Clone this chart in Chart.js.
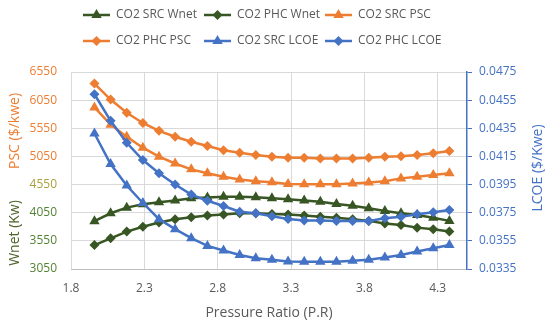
<!DOCTYPE html>
<html>
<head>
<meta charset="utf-8">
<script src="https://cdn.jsdelivr.net/npm/chart.js@4.4.0/dist/chart.umd.min.js"></script>
<style>
    html, body { margin: 0; padding: 0; background: #fff; }
    #grafico { display: block; }
</style>
</head>
<body>
<canvas id="grafico" width="550" height="326"></canvas>
<script>
// Dados
const pressureRatio = [1.96, 2.07, 2.18, 2.29, 2.40, 2.51, 2.62, 2.73, 2.84, 2.95, 3.06, 3.17, 3.28, 3.39, 3.50, 3.61, 3.72, 3.83, 3.94, 4.05, 4.16, 4.27, 4.38];
const srcWnet = [3900, 4040, 4140, 4200, 4235, 4265, 4305, 4320, 4335, 4335, 4325, 4305, 4290, 4265, 4245, 4205, 4175, 4130, 4080, 4040, 4010, 3960, 3905];
const phcWnet = [3475, 3595, 3715, 3800, 3875, 3935, 3970, 4000, 4020, 4040, 4040, 4025, 4020, 4000, 3980, 3960, 3935, 3905, 3860, 3830, 3785, 3755, 3715];
const srcPsc = [5920, 5615, 5400, 5205, 5045, 4925, 4820, 4750, 4690, 4640, 4610, 4590, 4560, 4555, 4555, 4555, 4570, 4585, 4610, 4660, 4690, 4720, 4750];
const phcPsc = [6345, 6060, 5825, 5645, 5505, 5400, 5310, 5235, 5160, 5115, 5075, 5045, 5025, 5025, 5015, 5015, 5015, 5025, 5045, 5055, 5075, 5105, 5145];
const srcLcoe = [0.04313, 0.04096, 0.03943, 0.03819, 0.03704, 0.03633, 0.03569, 0.03514, 0.03481, 0.03450, 0.03427, 0.03415, 0.03403, 0.03401, 0.03401, 0.03401, 0.03408, 0.03415, 0.03431, 0.03450, 0.03474, 0.03498, 0.03521];
const phcLcoe = [0.04592, 0.04403, 0.04247, 0.04124, 0.04030, 0.03950, 0.03879, 0.03835, 0.03798, 0.03757, 0.03746, 0.03725, 0.03706, 0.03694, 0.03694, 0.03691, 0.03691, 0.03691, 0.03711, 0.03722, 0.03739, 0.03753, 0.03770];

const seriesNames = ['CO2 SRC Wnet', 'CO2 PHC Wnet', 'CO2 SRC PSC', 'CO2 PHC PSC', 'CO2 SRC LCOE', 'CO2 PHC LCOE'];
const xTicks = [1.8, 2.3, 2.8, 3.3, 3.8, 4.3];
const leftTicks = [3050, 3550, 4050, 4550, 5050, 5550, 6050, 6550];
const rightTicks = [0.0335, 0.0355, 0.0375, 0.0395, 0.0415, 0.0435, 0.0455, 0.0475];

const CORES = {
    green: '#375623',
    orange: '#ED7D31',
    blue: '#4472C4',
    text: '#595959',
    grid: '#d9d9d9'
};

const FONT = "'Open Sans', sans-serif";

// forma dos marcadores
function desenhaMarcador(ctx, estilo, x, y, r, cor) {
    ctx.save();
    ctx.fillStyle = cor;
    ctx.beginPath();
    if (estilo === 'triangle') {
        ctx.moveTo(x, y - r);
        ctx.lineTo(x + r * 0.866, y + r * 0.5);
        ctx.lineTo(x - r * 0.866, y + r * 0.5);
    } else {
        ctx.moveTo(x, y - r);
        ctx.lineTo(x + r, y);
        ctx.lineTo(x, y + r);
        ctx.lineTo(x - r, y);
    }
    ctx.closePath();
    ctx.fill();
    ctx.restore();
}

// legenda e títulos dos eixos desenhados à mão
const extrasPlugin = {
    id: 'extras',
    afterDraw(chart) {
        const ctx = chart.ctx;
        const area = chart.chartArea;
        const colunas = [83, 204, 325];
        const linhas = [15, 41];

        ctx.save();
        chart.data.datasets.forEach((ds, i) => {
            const x0 = colunas[i % 3];
            const y0 = linhas[Math.floor(i / 3)];
            ctx.strokeStyle = ds.borderColor;
            ctx.lineWidth = 2.5;
            ctx.beginPath();
            ctx.moveTo(x0, y0);
            ctx.lineTo(x0 + 27, y0);
            ctx.stroke();
            desenhaMarcador(ctx, ds.pointStyle, x0 + 13.5, y0, ds.pointRadius, ds.borderColor);
            ctx.fillStyle = CORES.text;
            ctx.font = '12px ' + FONT;
            ctx.textAlign = 'left';
            ctx.textBaseline = 'middle';
            ctx.fillText(ds.label, x0 + 33, y0);
        });

        // título eixo x
        ctx.font = '14px ' + FONT;
        ctx.fillStyle = CORES.text;
        ctx.textAlign = 'center';
        ctx.textBaseline = 'middle';
        ctx.fillText('Pressure Ratio (P.R)', (area.left + area.right) / 2, 313);

        // títulos verticais
        const vertical = (texto, x, y, cor) => {
            ctx.save();
            ctx.translate(x, y);
            ctx.rotate(-Math.PI / 2);
            ctx.fillStyle = cor;
            ctx.fillText(texto, 0, 0);
            ctx.restore();
        };
        vertical('PSC ($/kwe)', 15, 131, CORES.orange);
        vertical('Wnet (Kw)', 15, 233, '#4F6228');
        vertical('LCOE ($/Kwe)', 538, 168, CORES.blue);
        ctx.restore();
    }
};

function montaSerie(valores) {
    return pressureRatio.map((x, i) => ({ x: x, y: valores[i] }));
}

document.addEventListener('DOMContentLoaded', () => {
    const valores = [srcWnet, phcWnet, srcPsc, phcPsc, srcLcoe, phcLcoe];
    const cores = [CORES.green, CORES.green, CORES.orange, CORES.orange, CORES.blue, CORES.blue];
    const eixos = ['y', 'y', 'y', 'y', 'y2', 'y2'];

    const datasets = seriesNames.map((nome, i) => {
        const tri = i % 2 === 0;
        return {
            label: nome,
            data: montaSerie(valores[i]),
            yAxisID: eixos[i],
            borderColor: cores[i],
            backgroundColor: cores[i],
            pointBackgroundColor: cores[i],
            pointBorderColor: cores[i],
            pointStyle: tri ? 'triangle' : 'rectRot',
            pointRadius: tri ? 6 : 5,
            pointBorderWidth: 0,
            borderWidth: 2.5,
            tension: 0,
            order: seriesNames.length - i
        };
    });

    const ctx = document.getElementById('grafico').getContext('2d');
    new Chart(ctx, {
        type: 'line',
        data: { datasets: datasets },
        plugins: [extrasPlugin],
        options: {
            responsive: false,
            animation: false,
            layout: { padding: { top: 72, left: 0, right: 0, bottom: 0 }, autoPadding: false },
            plugins: {
                legend: { display: false },
                tooltip: { enabled: false }
            },
            scales: {
                x: {
                    type: 'linear',
                    min: 1.8,
                    max: 4.5,
                    afterBuildTicks: axis => { axis.ticks = xTicks.map(v => ({ value: v })); },
                    afterFit: s => { s.height = 57; },
                    grid: { color: CORES.grid, drawTicks: false },
                    border: { color: '#bfbfbf' },
                    ticks: {
                        padding: 12,
                        color: CORES.text,
                        font: { family: FONT, size: 12 },
                        maxRotation: 0,
                        callback: v => v.toFixed(1)
                    }
                },
                y: {
                    position: 'left',
                    min: 3050,
                    max: 6550,
                    afterBuildTicks: axis => { axis.ticks = leftTicks.map(v => ({ value: v })); },
                    afterFit: s => { s.width = 71; },
                    grid: { color: CORES.grid, drawTicks: false },
                    border: { display: false },
                    ticks: {
                        padding: 14,
                        font: { family: FONT, size: 12 },
                        callback: v => String(v),
                        color: c => {
                            const v = c.tick.value;
                            if (v >= 5050) return CORES.orange;
                            if (v === 4550) return '#A9A03C';
                            return '#548235';
                        }
                    }
                },
                y2: {
                    position: 'right',
                    min: 0.0335,
                    max: 0.0475,
                    afterBuildTicks: axis => { axis.ticks = rightTicks.map(v => ({ value: v })); },
                    afterFit: s => { s.width = 83; },
                    grid: { drawOnChartArea: false, color: CORES.blue, tickLength: 5 },
                    border: { color: CORES.blue, width: 1.5 },
                    ticks: {
                        padding: 7,
                        color: CORES.blue,
                        font: { family: FONT, size: 12 },
                        callback: v => v.toFixed(4)
                    }
                }
            }
        }
    });
});
</script>
</body>
</html>
